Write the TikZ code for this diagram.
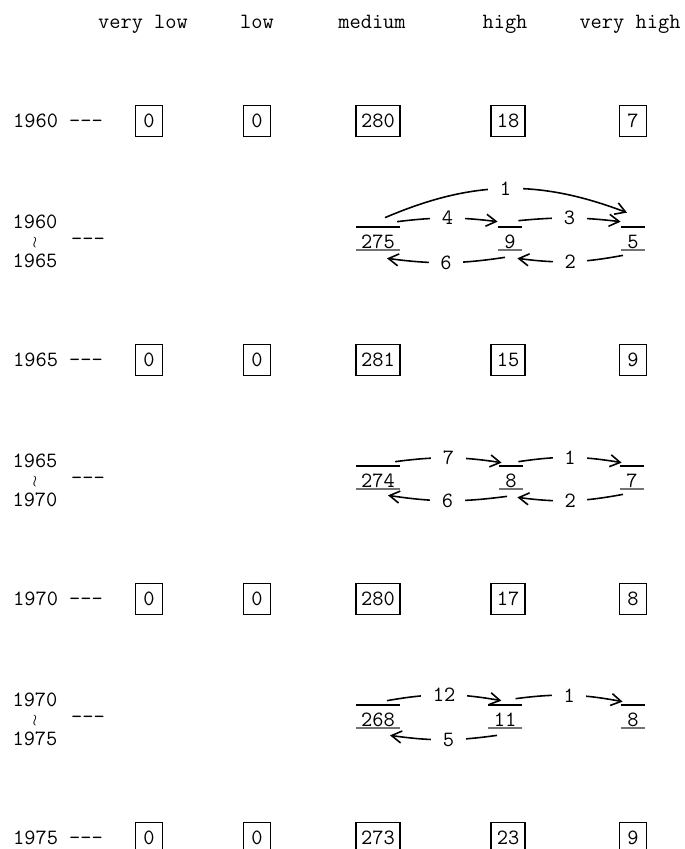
\documentclass[tikz,border=0pt]{standalone}
\usepackage{fontspec}
\usetikzlibrary{arrows.meta,calc}

\newcommand{\dashmark}{-\kern0pt-\kern0pt-}
\newcommand{\tilt}{{\fontsize{9.5}{10}\selectfont$\wr$}}

\begin{document}
\begin{tikzpicture}[x=0.02cm,y=-0.02cm,
    font=\ttfamily\fontsize{12.4}{15}\selectfont,
    >={Straight Barb[length=0.2cm,width=0.24cm]},
    cell/.style={draw,line width=1pt,inner xsep=0.11cm,inner ysep=0.17cm,minimum width=0.54cm},
    flow/.style={anchor=base,inner xsep=0.1cm,inner ysep=0pt,text height=0.43cm,text depth=0.03cm,minimum width=0.48cm},
    span/.style={inner sep=0pt},
    count/.style={fill=white,inner xsep=0.23cm,inner ysep=0.04cm},
    move/.style={->,line width=0.9pt},
    bar/.style={line width=1pt},
    under/.style={line width=1pt,black!55}]
    \useasboundingbox (0,0) rectangle (685,849);

    % Column heads
    \node[anchor=base] (hvl) at (143,28) {very low};
    \node[anchor=base] (hlo) at (257,28) {low};
    \node[anchor=base] (hme) at (372,28) {medium};
    \node[anchor=base] (hhi) at (505,28) {high};
    \node[anchor=base] (hvh) at (630,28) {very high};

    % 1960 counts
    \node (r1) at (58,121) {1960 \dashmark};
    \node[cell] (a1) at (149,121) {0};
    \node[cell] (b1) at (257,121) {0};
    \node[cell] (c1) at (378,121) {280};
    \node[cell] (d1) at (508,121) {18};
    \node[cell] (e1) at (633,121) {7};

    % Moves 1960 - 1965
    \node[span] (f1) at (35,222) {1960};
    \node[span] (w1) at (35,243) {\tilt};
    \node[span] (t1) at (35,261) {1965};
    \node[span] (g1) at (88,242) {\dashmark};
    \node[flow] (m1) at (378,248.5) {275};
    \node[flow] (h1) at (510,248.5) {9};
    \node[flow] (v1) at (633,248.5) {5};
    \draw[bar] (m1.north west) -- (m1.north east);
    \draw[under] (m1.south west) -- (m1.south east);
    \draw[bar] (h1.north west) -- (h1.north east);
    \draw[under] (h1.south west) -- (h1.south east);
    \draw[bar] (v1.north west) -- (v1.north east);
    \draw[under] (v1.south west) -- (v1.south east);
    \draw[move] ([xshift=0.14cm,yshift=0.18cm]m1.north) to[bend left=22] node[count] {1} ([xshift=-0.12cm,yshift=0.28cm]v1.north);
    \draw[move] ([xshift=-0.06cm,yshift=0.1cm]m1.north east) to[bend left=7] node[count] {4} ([yshift=0.1cm]h1.north west);
    \draw[move] ([xshift=-0.08cm,yshift=0.12cm]h1.north east) to[bend left=6] node[count] {3} ([yshift=0.1cm]v1.north west);
    \draw[move] ([xshift=-0.1cm,yshift=-0.14cm]h1.south) to[bend left=8] node[count] {6} ([xshift=0.18cm,yshift=-0.16cm]m1.south);
    \draw[move] ([xshift=-0.2cm,yshift=-0.1cm]v1.south) to[bend left=9] node[count] {2} ([xshift=-0.1cm,yshift=-0.16cm]h1.south east);

    % 1965 counts
    \node (r2) at (58,360) {1965 \dashmark};
    \node[cell] (a2) at (149,360) {0};
    \node[cell] (b2) at (257,360) {0};
    \node[cell] (c2) at (378,360) {281};
    \node[cell] (d2) at (508,360) {15};
    \node[cell] (e2) at (633,360) {9};

    % Moves 1965 - 1970
    \node[span] (f2) at (35,461) {1965};
    \node[span] (w2) at (35,482) {\tilt};
    \node[span] (t2) at (35,500) {1970};
    \node[span] (g2) at (88,481) {\dashmark};
    \node[flow] (m2) at (378,487.5) {274};
    \node[flow] (h2) at (511,487.5) {8};
    \node[flow] (v2) at (632,487.5) {7};
    \draw[bar] (m2.north west) -- (m2.north east);
    \draw[under] (m2.south west) -- (m2.south east);
    \draw[bar] (h2.north west) -- (h2.north east);
    \draw[under] (h2.south west) -- (h2.south east);
    \draw[bar] (v2.north west) -- (v2.north east);
    \draw[under] (v2.south west) -- (v2.south east);
    \draw[move] ([xshift=-0.1cm,yshift=0.08cm]m2.north east) to[bend left=8] node[count] {7} ([xshift=0.06cm,yshift=0.06cm]h2.north west);
    \draw[move] ([xshift=-0.1cm,yshift=0.08cm]h2.north east) to[bend left=9] node[count] {1} ([xshift=0.04cm,yshift=0.06cm]v2.north west);
    \draw[move] ([xshift=-0.08cm,yshift=-0.14cm]h2.south) to[bend left=8] node[count] {6} ([xshift=0.2cm,yshift=-0.12cm]m2.south);
    \draw[move] ([xshift=-0.18cm,yshift=-0.1cm]v2.south) to[bend left=9] node[count] {2} ([xshift=-0.12cm,yshift=-0.16cm]h2.south east);

    % 1970 counts
    \node (r3) at (58,599) {1970 \dashmark};
    \node[cell] (a3) at (149,599) {0};
    \node[cell] (b3) at (257,599) {0};
    \node[cell] (c3) at (378,599) {280};
    \node[cell] (d3) at (508,599) {17};
    \node[cell] (e3) at (633,599) {8};

    % Moves 1970 - 1975
    \node[span] (f3) at (35,700) {1970};
    \node[span] (w3) at (35,721) {\tilt};
    \node[span] (t3) at (35,739) {1975};
    \node[span] (g3) at (88,720) {\dashmark};
    \node[flow] (m3) at (378,726.5) {268};
    \node[flow] (h3) at (505,726.5) {11};
    \node[flow] (v3) at (633,726.5) {8};
    \draw[bar] (m3.north west) -- (m3.north east);
    \draw[under] (m3.south west) -- (m3.south east);
    \draw[bar] (h3.north west) -- (h3.north east);
    \draw[under] (h3.south west) -- (h3.south east);
    \draw[bar] (v3.north west) -- (v3.north east);
    \draw[under] (v3.south west) -- (v3.south east);
    \draw[move] ([xshift=0.18cm,yshift=0.08cm]m3.north) to[bend left=10] node[count] {12} ([xshift=0.26cm,yshift=0.08cm]h3.north west);
    \draw[move] ([xshift=-0.12cm,yshift=0.12cm]h3.north east) to[bend left=9] node[count] {1} ([xshift=0.04cm,yshift=0.06cm]v3.north west);
    \draw[move] ([xshift=-0.16cm,yshift=-0.14cm]h3.south) to[bend left=8] node[count,pos=0.45] {5} ([xshift=0.24cm,yshift=-0.14cm]m3.south);

    % 1975 counts
    \node (r4) at (58,838) {1975 \dashmark};
    \node[cell] (a4) at (149,838) {0};
    \node[cell] (b4) at (257,838) {0};
    \node[cell] (c4) at (378,838) {273};
    \node[cell] (d4) at (508,838) {23};
    \node[cell] (e4) at (633,838) {9};
\end{tikzpicture}
\end{document}
